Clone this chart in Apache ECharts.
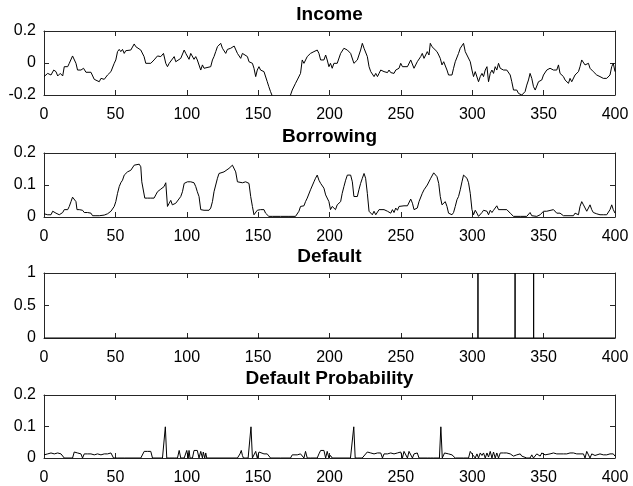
<!DOCTYPE html>
<html>
<head>
<meta charset="utf-8">
<title>Income, Borrowing, Default</title>
<script src="https://cdn.jsdelivr.net/npm/echarts@6/dist/echarts.min.js"></script>
<style>
  html, body { margin: 0; padding: 0; background: #fff; }
  #main { width: 633px; height: 486px; }
</style>
</head>
<body>
<div id="main"></div>
<script>
// values, as [period, value]
var incomeData = [
  [0,-0.085],[2.6,-0.065],[4.9,-0.075],[6.8,-0.044],[8.4,-0.054],[9.6,-0.081],[11.4,-0.065],[13.1,-0.081],[14.2,-0.023],[16.6,-0.023],
  [17.7,-0.002],[20,0.044],[22.4,-0.002],[23.5,-0.044],[25.9,-0.044],[27.7,-0.033],[29.4,-0.058],[32.9,-0.058],[35.2,-0.102],[38.7,-0.117],
  [39.9,-0.096],[42.2,-0.102],[44.5,-0.075],[46.9,-0.054],[49.2,-0.002],[50.3,0.019],[51.5,0.071],[52.7,0.085],[53.8,0.071],[55,0.085],
  [56.2,0.06],[57.3,0.077],[58.5,0.081],[60.8,0.081],[63.2,0.119],[64.3,0.102],[65.5,0.106],[67.8,0.081],[70.1,0.04],[71.3,-0.002],
  [74.8,-0.002],[77.1,0.019],[79.5,0.044],[81.8,0.04],[83.7,0.06],[85.3,-0.002],[86.5,-0.023],[87.7,-0.002],[88.8,-0.012],[91.2,0.04],
  [92.3,0.008],[93.5,-0.002],[95.8,0.029],[98.2,0.081],[99.3,0.06],[100.5,0.05],[101.6,0.023],[102.8,0.06],[105.1,0.023],[106.3,0.04],
  [107.4,0.019],[109.8,-0.044],[111,-0.012],[112.1,-0.033],[113.3,-0.023],[116.8,-0.023],[118,0.019],[119.1,0.04],[120.3,0.071],[121.5,0.102],
  [123.8,0.123],[125,0.092],[127.3,0.06],[128.5,0.085],[130.8,0.092],[132,0.081],[133.2,0.106],[135.5,0.06],[137.8,0.029],
  [139,0.06],[140.1,0.05],[142.5,0.04],[143.6,0.008],[144.8,0.019],[146,-0.002],[147.1,-0.033],[148.3,-0.085],[149.4,-0.044],[150.6,-0.023],
  [151.7,-0.044],[152.9,-0.033],[154.1,-0.054],[155.2,-0.054],[156.4,-0.117],[157.5,-0.148],[158.7,-0.179],[159.9,-0.206],[163,-0.25],[169,-0.24],
  [172.7,-0.2],[173.9,-0.169],[175.1,-0.169],[176.2,-0.127],[177.4,-0.106],[178.6,-0.117],[179.7,-0.065],[180.9,0.019],[182.1,-0.002],[183.2,0.008],
  [184.4,0.04],[186.7,0.06],[189.1,0.071],[191.4,0.081],[192.6,0.06],[193.8,0.019],[196.1,0.019],[197.3,0.05],[198.4,0.019],[199.6,-0.023],
  [200.7,-0.002],[201.9,-0.033],[203.1,-0.002],[205.4,-0.002],[206.6,0.008],[207.8,0.06],[210.1,0.092],[211.3,0.102],[212.5,0.081],[214.8,0.06],
  [217.1,-0.002],[218.3,-0.012],[219.5,0.019],[221.8,0.081],[223,0.123],[224.2,0.092],[225.3,0.081],[226.5,0.04],[227.7,-0.023],[228.9,-0.054],
  [230,-0.065],[231.2,-0.085],[232.4,-0.065],[233.6,-0.085],[234.7,-0.065],[235.9,-0.044],[238.2,-0.054],[239.4,-0.044],[240.6,-0.06],[241.7,-0.044],
  [242.9,-0.06],[244.1,-0.054],[245.2,-0.065],[246.4,-0.044],[247.6,-0.054],[248.7,-0.033],[249.9,-0.002],[251.1,-0.023],[252.2,-0.019],[254.6,-0.023],
  [255.7,-0.012],[256.9,0.019],[258.1,0.008],[259.2,-0.033],[260.4,-0.044],[261.5,0.008],[263.9,0.04],[265,0.06],[266.2,0.029],[267.4,0.04],
  [268.5,0.071],[269.7,0.05],
  [270.6,0.123],[271.8,0.102],[273,0.092],[275.3,0.071],[276.5,0.05],[277.6,0.029],[278.8,-0.012],[280,0.008],[281.1,-0.002],[282.3,-0.044],
  [283.4,-0.075],[284.6,-0.085],[285.8,-0.075],[286.9,-0.033],[288.1,0.008],[289.3,0.019],[290.4,0.06],[291.6,0.092],[292.8,0.081],[293.9,0.123],
  [295.1,0.071],[296.3,0.06],[298.6,0.008],[299.8,-0.044],[300.9,-0.085],[302.1,-0.054],[303.3,-0.065],[304.4,-0.117],[305.6,-0.085],[306.8,-0.065],
  [307.9,-0.085],[309.1,-0.044],[310.3,-0.023],[311.4,-0.117],[312.6,-0.065],[313.8,-0.044],[314.9,-0.065],[316.1,-0.023],[317.2,-0.044],[318.4,-0.002],
  [319.6,-0.033],[320.7,-0.033],[321.9,-0.044],[324.2,-0.044],[326.6,-0.075],[327.7,-0.117],[328.9,-0.169],[330.1,-0.179],[331.2,-0.169],[332.4,-0.19],
  [333.6,-0.179],[334.7,-0.2],[335.9,-0.206],[337,-0.179],[338.2,-0.138],[339.4,-0.106],[340.5,-0.065],[341.7,-0.096],[342.9,-0.148],[344.1,-0.169],
  [345.2,-0.158],[346.4,-0.117],[347.6,-0.127],[348.7,-0.106],[349.9,-0.075],[351,-0.065],[352.2,-0.044],[353.4,-0.054],[354.5,-0.033],[356.9,-0.044],
  [358,-0.054],[359.2,-0.044],[360.4,-0.012],[361.5,-0.065],[362.7,-0.075],[363.9,-0.085],[365,-0.106],[366.2,-0.096],[367.4,-0.127],[368.5,-0.096],
  [369.7,-0.117],[370.9,-0.106],[372,-0.075],[373.2,-0.065],[374.4,-0.054],[375.5,-0.023],[376.7,0.019],[377.9,0.008],[379,-0.012],[380.2,-0.023],
  [381.4,-0.002],[382.5,-0.033],[383.7,-0.044],[384.8,-0.054],[386,-0.054],[387.2,-0.075],[388.3,-0.065],[389.5,-0.085],[390.7,-0.075],[391.8,-0.096],
  [393,-0.085],[394.2,-0.096],[395.3,-0.106],[396.5,-0.075],[397.7,-0.023],[398.8,-0.002],[400,-0.054]
];

var borrowingData = [
  [0,0.010],[2.6,0.007],[3.7,0.012],[4.9,0.007],[6.1,0.018],[6.8,0.023],[8.4,0.012],[9.6,0.018],[10.7,0.007],[11.9,0.010],
  [13.1,0.014],[14.2,0.023],[16.6,0.023],[17.7,0.033],[18.9,0.048],[20,0.062],[21.2,0.062],[22.4,0.048],[23.1,0.023],[24.7,0.023],
  [27,0.021],[28.2,0.014],[30.5,0.014],[32.9,0.012],[34,0.004],[36.4,0.004],[38.7,0.004],[39.9,0.007],[42.2,0.006],[44.5,0.010],
  [46.9,0.018],[48,0.023],[49.2,0.033],[50.3,0.048],[51.5,0.074],[52.7,0.095],[53.8,0.107],[55,0.115],[56.2,0.131],[57.3,0.136],
  [58.5,0.141],[59.7,0.144],[60.8,0.146],[62,0.152],[63.2,0.162],[64.3,0.165],[66.7,0.165],[67.8,0.157],[68.5,0.110],[69.7,0.105],
  [70.6,0.059],[72.5,0.059],[74.8,0.059],[77.1,0.059],[78.3,0.069],[79.5,0.079],[81.8,0.087],[84.1,0.095],[85.3,0.107],[86.5,0.033],
  [87.7,0.043],[88.8,0.052],[89.9,0.038],[91.2,0.038],[92.3,0.043],[93.5,0.048],[95.8,0.064],[97,0.079],[98.2,0.105],[100.5,0.110],
  [102.8,0.110],[105.1,0.107],[106.3,0.095],[107.4,0.079],[108.6,0.064],[109.8,0.023],[111,0.028],[112.1,0.021],[113.3,0.021],[115.6,0.021],
  [116.8,0.028],[118,0.048],[119.1,0.079],[121.5,0.121],[122.6,0.136],[123.8,0.141],[126.1,0.141],[127.3,0.146],[129.6,0.152],[130.8,0.157],
  [132,0.162],[133.2,0.159],[134.3,0.141],[135.5,0.110],[136.6,0.107],
  [139,0.107],[141.3,0.110],[142.5,0.105],[143.6,0.105],[144.8,0.064],[146,0.033],[147.1,0.007],[148.3,0.007],[149.4,0.021],[151.7,0.023],
  [154.1,0.023],[155.2,0.012],[156.4,0.007],[157.5,0.002],[159.9,0.002],[165.7,0.002],[171.6,0.002],[176.2,0.002],[177.4,0.004],[178.6,0.018],
  [179.7,0.033],[180.9,0.033],[182.1,0.035],[183.2,0.048],[184.4,0.059],[186.7,0.085],[189.1,0.110],[190.2,0.121],[191.4,0.131],[192.6,0.115],
  [193.8,0.105],[194.9,0.110],[196.1,0.090],[197.3,0.069],[198.4,0.064],[199.6,0.048],[200.7,0.023],[201.9,0.033],[203.1,0.028],[204.2,0.023],
  [205.4,0.038],[206.6,0.043],[207.8,0.048],[208.9,0.074],[210.1,0.095],[211.3,0.115],[212.5,0.131],[213.6,0.136],[214.8,0.131],[216,0.110],
  [217.1,0.064],[218.3,0.059],[219.5,0.064],[220.6,0.085],[221.8,0.105],[223,0.121],[224.2,0.136],[225.3,0.121],[226.5,0.074],[227.7,0.018],
  [228.9,0.012],[230,0.007],[231.2,0.018],[232.4,0.007],[233.6,0.012],[234.7,0.023],[235.9,0.023],[238.2,0.023],[240.6,0.018],[241.7,0.023],
  [242.9,0.012],[244.1,0.023],[245.2,0.014],[246.4,0.028],[247.6,0.021],[248.7,0.033],[249.9,0.035],[252.2,0.035],[254.6,0.035],[256.9,0.056],
  [258.1,0.043],[259.2,0.023],[260.4,0.023],[261.5,0.028],[262.7,0.048],[263.9,0.054],[265,0.074],[266.2,0.085],[267.4,0.079],[268.5,0.100],
  [270.9,0.121],
  [271.8,0.126],[273,0.138],[274.1,0.141],[275.3,0.126],[276.5,0.105],[277.6,0.064],[278.8,0.038],[280,0.033],[281.1,0.048],[282.3,0.033],
  [283.4,0.012],[284.6,0.007],[285.8,0.007],[286.9,0.014],[288.1,0.033],[289.3,0.054],[290.4,0.064],[291.6,0.085],[292.8,0.110],[293.9,0.131],
  [295.1,0.136],[296.3,0.121],[297.4,0.107],[298.6,0.074],[299.8,0.023],[300.9,0.007],[302.1,0.021],[303.3,0.012],[304.4,0.002],[305.6,0.007],
  [306.8,0.014],[307.9,0.021],[309.1,0.023],[310.3,0.018],[311.4,0.007],[312.6,0.021],[313.8,0.014],[314.9,0.021],[316.1,0.025],[317.2,0.035],
  [318.4,0.023],[319.6,0.023],[324.2,0.023],[325.4,0.021],[326.6,0.012],[328.9,0.002],[333.6,0.002],[338.2,0.002],[339.4,0.004],[340.5,0.014],
  [341.7,0.004],[342.9,0.002],[345.2,0.002],[347.6,0.007],[348.7,0.012],[349.9,0.018],[351,0.014],[352.2,0.018],[353.4,0.023],[356.9,0.023],
  [358,0.018],[359.2,0.012],[360.4,0.018],[361.5,0.012],[362.7,0.007],[363.9,0.004],[368.5,0.004],[370.9,0.004],[372,0.012],[373.2,0.014],
  [374.4,0.007],[375.5,0.033],[376.7,0.048],[377.9,0.038],[379,0.041],[380.2,0.018],[381.4,0.028],[382.5,0.038],[383.7,0.023],[384.8,0.014],
  [386,0.014],[387.2,0.010],[388.3,0.014],[389.5,0.007],[390.7,0.010],[391.8,0.007],[394.2,0.007],[395.3,0.010],[396.5,0.023],[397.7,0.038],
  [398.8,0.023],[400,0.012]
];

// periods in which the borrower defaults
var defaultPeriods = [304, 330, 343];

var defaultProbData = [
  [0,0.010],[2.6,0.013],[4.9,0.016],[7.2,0.013],[9.6,0.016],[11.9,0.013],[13.1,0.013],[14.2,0],[20,0],[21.2,0.019],
  [22.4,0.021],[23.5,0.016],[24.7,0.016],[25.9,0.013],[27,0],[28.2,0.013],[30.5,0.013],[32.9,0.013],[35.2,0.010],[37.5,0.013],
  [39.9,0.010],[42.2,0.013],[44.5,0.013],[46.9,0.016],[48,0.016],[48.7,0],[51.5,0],[56.2,0],[67.8,0],[69,0],
  [70.2,0.021],[72.5,0.021],[74.8,0.021],[76,0],[83,0],[84,0],[85,0.099],[86,0],[87.7,0],[91.2,0],
  [93.5,0],[94.7,0.024],[95.8,0],[98.2,0],[100,0.024],[101,0],[101.6,0.024],[102.3,0],[104,0],[105.1,0.024],
  [107.4,0.024],[108.6,0],[109.8,0.021],[111,0],[111.6,0.019],[112.6,0],[113.3,0.016],[114,0],[115.6,0],[126.1,0],
  [135.5,0],[136.6,0],[137.3,0.013],[138.2,0.024],[139,0.008],[139.7,0],[141.3,0],[143,0],[144,0],[145,0.099],
  [146,0],[147.1,0.003],[148.3,0.021],[149.4,0],[150.6,0.019],[151.7,0.019],[154.1,0.013],[156.4,0.013],[157.5,0.008],[158.7,0],
  [165.7,0],[172.7,0],[173.9,0.010],[175.1,0.008],[177.4,0.010],[179.7,0.013],[180.9,0.010],[182.1,0],[183.2,0.021],[184.4,0],
  [186.7,0],[191.4,0],[192.6,0.013],[193.8,0.024],[194.9,0.021],[196.1,0.024],[197.3,0],[198.4,0.021],[199.6,0],[200.7,0.008],
  [201.9,0],[214.7,0],[216,0],[217,0.099],[218,0],[219.8,0],[222.9,0],[224.2,0],[226.5,0.019],[227.7,0.016],
  [228.9,0.016],[231.2,0.013],[233.6,0.016],[235.9,0.016],[237.1,0],[238.2,0.013],[240.6,0.013],[242.9,0.016],[245.2,0.013],[247.6,0.016],
  [249.9,0.019],[251.1,0],[252.2,0.021],[253.4,0.021],[254.6,0],[255.7,0.021],[256.9,0.016],[258.1,0],[259.2,0.013],[261.5,0.016],
  [262.7,0],[268.5,0],[270.9,0],[273,0],[275.3,0],[277,0],[278,0.099],[279,0],[279.6,0.003],[280.6,0.016],
  [282,0.016],[283.4,0.013],[285.8,0.010],[286.9,0.008],[288.1,0],[293.9,0],[297.4,0],[298.6,0.021],[299.8,0.013],[300.9,0.016],
  [302.1,0],[303.3,0.013],[304.4,0],[305.6,0.016],[306.8,0.008],[307.9,0.016],[309.1,0],[310.3,0.016],[311.4,0.003],[312.6,0.021],
  [313.8,0],[314.9,0.019],[316.1,0],[317.2,0.016],[318.4,0],[319.6,0.016],[321.9,0.016],[324.2,0.016],[326.6,0.013],[327.7,0.008],
  [328.9,0.006],[330.1,0],[331.2,0.010],[332.4,0.006],[333.6,0.013],[334.7,0.006],[335.9,0.008],[338.2,0],[340.5,0],[341.7,0.010],
  [342.9,0],[344.1,0],[345.2,0.013],[346.4,0.016],[347.6,0.006],[348.7,0.016],[349.9,0.019],[351,0.010],[352.2,0.016],[354.5,0.013],
  [356.9,0.016],[359.2,0.013],[361.5,0.013],[363.9,0.013],[366.2,0.013],[368.5,0.016],[370.9,0.016],[373.2,0.013],[375.5,0.013],[377.9,0.013],
  [379,0],[380.2,0.021],[381.4,0.016],[382.5,0],[383.7,0.013],[384.8,0.016],[386,0.008],[387.2,0.013],[389.5,0.013],[391.8,0.010],
  [394.2,0.010],[396.5,0.013],[397.7,0.019],[398.8,0.013],[400,0.006]
];

var panelTitles = ['Income', 'Borrowing', 'Default', 'Default Probability'];
var yRanges = [[-0.2, 0.2, 0.2], [0, 0.2, 0.1], [0, 1, 0.5], [0, 0.2, 0.1]];

(function () {
    'use strict';

    var axisColor = '#262626';
    var font = 'Liberation Sans, Arial, Helvetica, sans-serif';
    var gridTops = [31, 153, 273, 395];
    var gridHeights = [64, 64, 65, 64];

    // default series: a vertical stroke at each default period
    var defaultData = [[0, 0]];
    defaultPeriods.forEach(function (t) {
        defaultData.push([t, 0], [t, 1], [t, 0]);
    });
    defaultData.push([400, 0]);

    var seriesData = [incomeData, borrowingData, defaultData, defaultProbData];

    var grids = [], xAxes = [], yAxes = [], titles = [], series = [];

    for (var i = 0; i < 4; i++) {
        grids.push({ left: 44, width: 571, top: gridTops[i], height: gridHeights[i] });

        titles.push({
            text: panelTitles[i],
            left: 329.5,
            textAlign: 'center',
            top: gridTops[i] - 26,
            padding: 0,
            textStyle: { fontFamily: font, fontSize: 19, fontWeight: 'bold', color: '#000' }
        });

        ['bottom', 'top'].forEach(function (pos) {
            xAxes.push({
                gridIndex: i,
                type: 'value',
                position: pos,
                min: 0,
                max: 400,
                interval: 50,
                axisLine: { show: true, onZero: false, lineStyle: { color: axisColor, width: 1 } },
                axisTick: { show: true, inside: true, length: 5, lineStyle: { color: axisColor } },
                axisLabel: {
                    show: pos === 'bottom',
                    margin: 12,
                    fontFamily: font,
                    fontSize: 16,
                    color: '#000'
                },
                splitLine: { show: false }
            });
        });

        ['left', 'right'].forEach(function (pos) {
            yAxes.push({
                gridIndex: i,
                type: 'value',
                position: pos,
                min: yRanges[i][0],
                max: yRanges[i][1],
                interval: yRanges[i][2],
                axisLine: { show: true, onZero: false, lineStyle: { color: axisColor, width: 1 } },
                axisTick: { show: true, inside: true, length: 5, lineStyle: { color: axisColor } },
                axisLabel: {
                    show: pos === 'left',
                    margin: 8,
                    fontFamily: font,
                    fontSize: 16,
                    color: '#000'
                },
                splitLine: { show: false }
            });
        });

        series.push({
            type: 'line',
            xAxisIndex: i * 2,
            yAxisIndex: i * 2,
            data: seriesData[i],
            showSymbol: false,
            symbol: 'none',
            clip: true,
            lineStyle: { color: '#000', width: 1 },
            emphasis: { disabled: true }
        });
    }

    var chart = echarts.init(document.getElementById('main'));
    chart.setOption({
        animation: false,
        backgroundColor: '#fff',
        title: titles,
        grid: grids,
        xAxis: xAxes,
        yAxis: yAxes,
        series: series
    });
})();
</script>
</body>
</html>
